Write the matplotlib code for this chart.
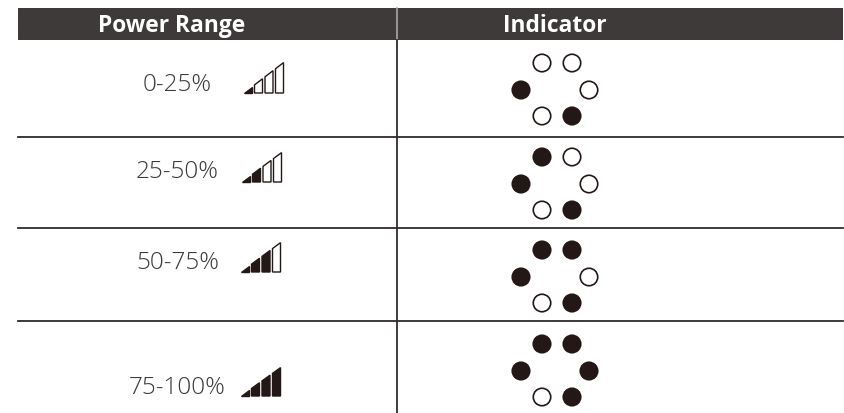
import matplotlib.pyplot as plt
from matplotlib.patches import Polygon, Rectangle

# table content
headers = ['Power Range', 'Indicator']
ranges = ['0-25%', '25-50%', '50-75%', '75-100%']
bars_on = [1, 2, 3, 4]
leds = [
    [0, 0, 1, 0, 0, 1],
    [1, 0, 1, 0, 0, 1],
    [1, 1, 1, 0, 0, 1],
    [1, 1, 1, 1, 0, 1],
]

# layout, in pixels of the picture
dark = '#3e3a39'
black = '#231815'
led_x = [542, 572, 521, 589, 542, 572]
led_dy = [0, 0, 27, 27, 53, 53]
led_top = [63, 157, 250, 344]
label_x = [177.5, 177.5, 177.5, 177.5]
label_y = [85, 172, 263, 388]
icon_x = [244, 242, 241, 241]
icon_base = [93, 182, 272, 396]
icon_h = [30, 29, 29, 28]
row_lines = [137, 228, 321]

plt.rcParams['font.family'] = ['Open Sans', 'DejaVu Sans']

fig = plt.figure(figsize=(8.44, 4.13), dpi=100)
ax = fig.add_axes([0, 0, 1, 1])
ax.set_xlim(0, 844)
ax.set_ylim(413, 0)
ax.axis('off')

# header
ax.add_patch(Rectangle((18, 8), 825, 32, facecolor=dark, edgecolor='none'))
ax.plot([397, 397], [8, 40], color='#a9a7a6', lw=1.2)
ax.plot([397, 397], [40, 413], color='#2f2b2a', lw=1.3)
ax.text(172, 26, headers[0], color='white', fontsize=16.4, fontweight='bold',
        ha='center', va='center')
ax.text(555, 26, headers[1], color='white', fontsize=16.4, fontweight='bold',
        ha='center', va='center')

for y in row_lines:
    ax.plot([18, 843], [y, y], color='#2f2b2a', lw=1.3)

for i in range(len(ranges)):
    ax.text(label_x[i], label_y[i], ranges[i], color='#3e3a39', fontsize=17.5,
            fontweight='light', ha='center', va='center')

    # signal icon: four bars under one slope
    x0 = icon_x[i]
    base = icon_base[i]
    h = icon_h[i]
    slope = h / 39.0
    for b in range(4):
        left = x0 + b * 10.5
        right = left + 8
        filled = b < bars_on[i]
        if b == 0:
            pts = [(left, base), (right, base), (right, base - 8 * slope)]
        else:
            pts = [(left, base), (right, base), (right, base - (right - x0) * slope),
                   (left, base - (left - x0) * slope)]
        ax.add_patch(Polygon(pts, closed=True, facecolor=black if filled else 'white',
                             edgecolor=black, lw=1.0))

    # indicator lights
    ys = [led_top[i] + d for d in led_dy]
    colors = [black if s else 'white' for s in leds[i]]
    ax.scatter(led_x, ys, s=158, c=colors, edgecolors=black, linewidths=1.2, zorder=3)

fig.savefig('out.png', dpi=100)
